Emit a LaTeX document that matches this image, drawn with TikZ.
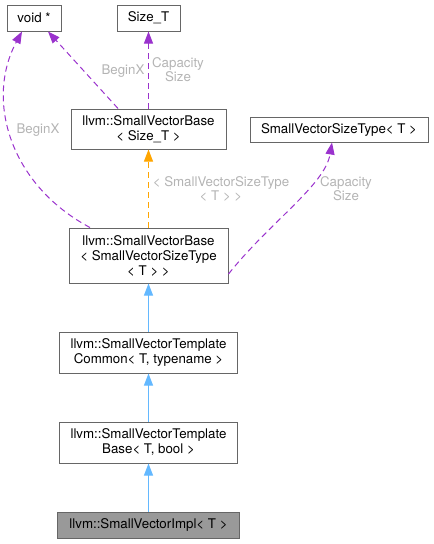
\documentclass[tikz,border=0pt]{standalone}
\usepackage{fontspec}
\setmainfont{TeX Gyre Heros}
\usetikzlibrary{arrows.meta}
\definecolor{usepurple}{RGB}{154,50,205}
\definecolor{tmplorange}{RGB}{255,165,0}
\definecolor{inhblue}{RGB}{99,184,255}
\definecolor{boxgray}{RGB}{102,102,102}
\definecolor{implgray}{RGB}{153,153,153}
\definecolor{lblgray}{RGB}{180,180,180}

\tikzset{
  classbox/.style={draw=boxgray,fill=white,line width=1pt,align=center,inner sep=0pt,
    font=\fontsize{13.3}{15}\selectfont},
  edgelbl/.style={text=lblgray,align=center,inner sep=0pt,font=\fontsize{13.3}{14}\selectfont},
  usage/.style={draw=usepurple,line width=1pt,dash pattern=on 6pt off 4pt,
    -{Triangle[length=12pt,width=9pt]}},
  tmplarg/.style={usage,draw=tmplorange},
  inherit/.style={draw=inhblue,line width=1pt,-{Triangle[length=12pt,width=9pt]}}
}

\begin{document}
\begin{tikzpicture}[x=1pt,y=-1pt]
  \useasboundingbox (0,0) rectangle (434,544);
  % classes
  \node[classbox,minimum width=54,minimum height=26] (voidp) at (34,18) {void *};
  \node[classbox,minimum width=63,minimum height=26] (sizet) at (148.5,18) {Size\_T};
  \node[classbox,minimum width=155,minimum height=40] (basesz) at (148.5,129)
    {llvm::SmallVectorBase\\< Size\_T >};
  \node[classbox,minimum width=178,minimum height=25] (sizetype) at (339,129.5)
    {SmallVectorSizeType< T >};
  \node[classbox,minimum width=159,minimum height=55] (basest) at (148.5,255.5)
    {llvm::SmallVectorBase\\< SmallVectorSizeType\\< T > >};
  \node[classbox,minimum width=178,minimum height=41] (common) at (148.5,352.5)
    {llvm::SmallVectorTemplate\\Common< T, typename >};
  \node[classbox,minimum width=178,minimum height=41] (tbase) at (148.5,442.5)
    {llvm::SmallVectorTemplate\\Base< T, bool >};
  \node[classbox,fill=implgray,minimum width=182,minimum height=26] (impl) at (148.5,525)
    {llvm::SmallVectorImpl< T >};
  % members
  \draw[usage] ([xshift=-58.5pt]basest.north) .. controls (10,185) and (-15,100)
    .. ([xshift=-12pt]voidp.south);
  \node[edgelbl] (lbegin1) at (38,130) {BeginX};
  \draw[usage] ([xshift=-30.5pt]basesz.north) -- ([xshift=14pt]voidp.south);
  \node[edgelbl] (lbegin2) at (123,71) {BeginX};
  \draw[usage] (basesz.north) -- (sizet.south);
  \node[edgelbl] (lcap1) at (178,70) {Capacity\\Size};
  \draw[usage] ([yshift=-18.5pt]basest.east) .. controls (270,222) and (325,185)
    .. ([xshift=-7pt]sizetype.south);
  \node[edgelbl] (lcap2) at (346,189) {Capacity\\Size};
  % template argument
  \draw[tmplarg] (basest.north) -- (basesz.south);
  \node[edgelbl] (larg) at (221,189) {< SmallVectorSizeType\\< T > >};
  % inheritance
  \draw[inherit] (common.north) -- (basest.south);
  \draw[inherit] (tbase.north) -- (common.south);
  \draw[inherit] (impl.north) -- (tbase.south);
\end{tikzpicture}
\end{document}
